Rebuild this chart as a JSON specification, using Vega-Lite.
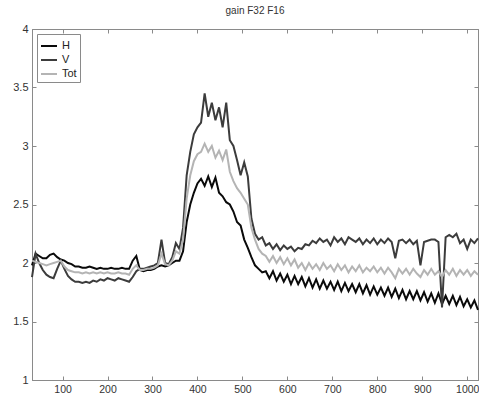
{
  "$schema": "https://vega.github.io/schema/vega-lite/v6.json",
  "width": 446,
  "height": 351,
  "autosize": {"type": "none"},
  "padding": {"left": 32, "top": 29, "right": 1, "bottom": 15},
  "background": "white",
  "title": {"text": "gain F32 F16", "fontSize": 10, "fontWeight": "normal", "font": "Liberation Sans", "color": "#333", "offset": 7},
  "config": {
    "view": {"stroke": "#8a8a8a", "strokeWidth": 1},
    "axis": {"grid": false, "domainColor": "#8a8a8a", "tickColor": "#8a8a8a", "labelFont": "Liberation Sans", "labelFontSize": 11, "labelColor": "#333", "title": null}
  },
  "data": {"values": [
{"x":32,"H":1.98,"V":1.88,"Tot":2.02},{"x":40,"H":2.08,"V":2.08,"Tot":2.01},{"x":48,"H":2.06,"V":2.0,"Tot":2.0},{"x":56,"H":2.04,"V":1.94,"Tot":1.99},{"x":64,"H":2.04,"V":1.9,"Tot":1.98},{"x":72,"H":2.07,"V":1.88,"Tot":1.99},{"x":80,"H":2.08,"V":1.87,"Tot":2.0},{"x":88,"H":2.05,"V":1.95,"Tot":2.01},{"x":96,"H":2.03,"V":2.02,"Tot":2.02},{"x":104,"H":2.02,"V":1.95,"Tot":1.97},
{"x":112,"H":2.0,"V":1.89,"Tot":1.94},{"x":120,"H":1.99,"V":1.86,"Tot":1.93},{"x":128,"H":1.97,"V":1.84,"Tot":1.92},{"x":136,"H":1.97,"V":1.84,"Tot":1.92},{"x":144,"H":1.96,"V":1.83,"Tot":1.91},{"x":152,"H":1.96,"V":1.84,"Tot":1.92},{"x":160,"H":1.97,"V":1.83,"Tot":1.91},{"x":168,"H":1.96,"V":1.85,"Tot":1.92},{"x":176,"H":1.95,"V":1.84,"Tot":1.91},{"x":184,"H":1.96,"V":1.86,"Tot":1.92},
{"x":192,"H":1.95,"V":1.85,"Tot":1.91},{"x":200,"H":1.95,"V":1.87,"Tot":1.92},{"x":208,"H":1.96,"V":1.86,"Tot":1.91},{"x":216,"H":1.95,"V":1.85,"Tot":1.91},{"x":224,"H":1.95,"V":1.87,"Tot":1.92},{"x":232,"H":1.96,"V":1.86,"Tot":1.91},{"x":240,"H":1.95,"V":1.85,"Tot":1.91},{"x":248,"H":1.95,"V":1.84,"Tot":1.9},{"x":256,"H":2.02,"V":1.88,"Tot":1.95},{"x":264,"H":2.06,"V":1.93,"Tot":1.98},
{"x":272,"H":1.94,"V":1.95,"Tot":1.94},{"x":280,"H":1.93,"V":1.95,"Tot":1.94},{"x":288,"H":1.94,"V":1.96,"Tot":1.95},{"x":296,"H":1.94,"V":1.97,"Tot":1.95},{"x":304,"H":1.95,"V":1.98,"Tot":1.96},{"x":312,"H":1.97,"V":2.0,"Tot":1.98},{"x":320,"H":1.98,"V":2.2,"Tot":2.08},{"x":328,"H":1.97,"V":2.0,"Tot":1.99},{"x":336,"H":1.98,"V":1.99,"Tot":1.98},{"x":344,"H":2.0,"V":2.05,"Tot":2.02},
{"x":352,"H":2.02,"V":2.17,"Tot":2.1},{"x":360,"H":2.02,"V":2.12,"Tot":2.08},{"x":368,"H":2.1,"V":2.3,"Tot":2.2},{"x":376,"H":2.35,"V":2.75,"Tot":2.55},{"x":384,"H":2.5,"V":2.95,"Tot":2.75},{"x":392,"H":2.6,"V":3.1,"Tot":2.87},{"x":400,"H":2.68,"V":3.16,"Tot":2.93},{"x":408,"H":2.72,"V":3.2,"Tot":2.95},{"x":416,"H":2.66,"V":3.45,"Tot":3.02},{"x":424,"H":2.74,"V":3.25,"Tot":2.95},
{"x":432,"H":2.65,"V":3.37,"Tot":3.0},{"x":440,"H":2.73,"V":3.22,"Tot":2.9},{"x":448,"H":2.6,"V":3.33,"Tot":2.96},{"x":456,"H":2.57,"V":3.16,"Tot":2.88},{"x":464,"H":2.52,"V":3.37,"Tot":2.97},{"x":472,"H":2.5,"V":3.05,"Tot":2.78},{"x":480,"H":2.44,"V":3.0,"Tot":2.7},{"x":488,"H":2.35,"V":2.88,"Tot":2.64},{"x":496,"H":2.32,"V":2.75,"Tot":2.6},{"x":504,"H":2.2,"V":2.86,"Tot":2.55},
{"x":512,"H":2.13,"V":2.74,"Tot":2.5},{"x":520,"H":2.05,"V":2.38,"Tot":2.3},{"x":528,"H":1.98,"V":2.25,"Tot":2.2},{"x":536,"H":1.95,"V":2.2,"Tot":2.12},{"x":544,"H":1.92,"V":2.22,"Tot":2.08},{"x":552,"H":1.93,"V":2.15,"Tot":2.06},{"x":560,"H":1.87,"V":2.17,"Tot":2.01},{"x":568,"H":1.93,"V":2.12,"Tot":2.06},{"x":576,"H":1.85,"V":2.16,"Tot":2.0},{"x":584,"H":1.91,"V":2.11,"Tot":2.05},
{"x":592,"H":1.84,"V":2.15,"Tot":1.99},{"x":600,"H":1.9,"V":2.12,"Tot":2.04},{"x":608,"H":1.82,"V":2.14,"Tot":1.98},{"x":616,"H":1.89,"V":2.1,"Tot":2.03},{"x":624,"H":1.82,"V":2.13,"Tot":1.96},{"x":632,"H":1.88,"V":2.12,"Tot":2.0},{"x":640,"H":1.8,"V":2.16,"Tot":1.94},{"x":648,"H":1.87,"V":2.15,"Tot":2.0},{"x":656,"H":1.79,"V":2.19,"Tot":1.95},{"x":664,"H":1.86,"V":2.17,"Tot":1.99},
{"x":672,"H":1.78,"V":2.21,"Tot":1.94},{"x":680,"H":1.85,"V":2.18,"Tot":2.0},{"x":688,"H":1.78,"V":2.2,"Tot":1.95},{"x":696,"H":1.84,"V":2.15,"Tot":1.98},{"x":704,"H":1.77,"V":2.22,"Tot":1.93},{"x":712,"H":1.84,"V":2.18,"Tot":1.99},{"x":720,"H":1.76,"V":2.21,"Tot":1.94},{"x":728,"H":1.83,"V":2.16,"Tot":1.98},{"x":736,"H":1.76,"V":2.22,"Tot":1.92},{"x":744,"H":1.82,"V":2.2,"Tot":1.97},
{"x":752,"H":1.75,"V":2.18,"Tot":1.93},{"x":760,"H":1.82,"V":2.21,"Tot":1.98},{"x":768,"H":1.74,"V":2.16,"Tot":1.92},{"x":776,"H":1.81,"V":2.2,"Tot":1.96},{"x":784,"H":1.73,"V":2.17,"Tot":1.93},{"x":792,"H":1.8,"V":2.21,"Tot":1.97},{"x":800,"H":1.73,"V":2.16,"Tot":1.92},{"x":808,"H":1.79,"V":2.2,"Tot":1.96},{"x":816,"H":1.72,"V":2.17,"Tot":1.91},{"x":824,"H":1.79,"V":2.21,"Tot":1.96},
{"x":832,"H":1.71,"V":2.18,"Tot":1.92},{"x":840,"H":1.78,"V":2.04,"Tot":1.87},{"x":848,"H":1.7,"V":2.19,"Tot":1.95},{"x":856,"H":1.77,"V":2.2,"Tot":1.91},{"x":864,"H":1.69,"V":2.17,"Tot":1.95},{"x":872,"H":1.76,"V":2.2,"Tot":1.9},{"x":880,"H":1.69,"V":2.16,"Tot":1.95},{"x":888,"H":1.76,"V":2.19,"Tot":1.91},{"x":896,"H":1.68,"V":1.98,"Tot":1.88},{"x":904,"H":1.75,"V":2.18,"Tot":1.94},
{"x":912,"H":1.67,"V":2.19,"Tot":1.9},{"x":920,"H":1.74,"V":2.2,"Tot":1.95},{"x":928,"H":1.66,"V":2.2,"Tot":1.9},{"x":936,"H":1.74,"V":2.18,"Tot":1.93},{"x":944,"H":1.65,"V":1.62,"Tot":1.88},{"x":952,"H":1.72,"V":2.22,"Tot":1.94},{"x":960,"H":1.65,"V":2.24,"Tot":1.9},{"x":968,"H":1.72,"V":2.22,"Tot":1.95},{"x":976,"H":1.64,"V":2.25,"Tot":1.89},{"x":984,"H":1.71,"V":2.17,"Tot":1.94},
{"x":992,"H":1.63,"V":2.2,"Tot":1.9},{"x":1000,"H":1.69,"V":2.12,"Tot":1.94},{"x":1008,"H":1.62,"V":2.2,"Tot":1.89},{"x":1016,"H":1.68,"V":2.17,"Tot":1.93},{"x":1024,"H":1.6,"V":2.21,"Tot":1.9}
  ]},
  "transform": [{"fold": ["H", "V", "Tot"], "as": ["series", "value"]}],
  "layer": [
    {
      "mark": {"type": "line", "strokeWidth": 2, "interpolate": "linear"},
      "encoding": {
        "x": {"field": "x", "type": "quantitative", "scale": {"domain": [32, 1024], "nice": false, "zero": false},
              "axis": {"orient": "bottom", "values": [100,200,300,400,500,600,700,800,900,1000], "tickSize": -4, "labelPadding": 8, "domain": true, "labelExpr": "datum.value", "labelFontSize": 10.5}},
        "y": {"field": "value", "type": "quantitative", "scale": {"domain": [1, 4], "nice": false, "zero": false},
              "axis": {"orient": "left", "values": [1,1.5,2,2.5,3,3.5,4], "tickSize": -4, "labelPadding": 8, "labelExpr": "datum.value"}},
        "color": {"field": "series", "type": "nominal", "sort": ["H", "V", "Tot"],
                  "scale": {"domain": ["H", "V", "Tot"], "range": ["#0a0a0a", "#3c3c3c", "#b4b4b4"]},
                  "legend": {"title": null, "orient": "top-left", "offset": 5, "padding": 3, "strokeColor": "#8a8a8a", "fillColor": "white",
                             "symbolType": "stroke", "symbolSize": 256, "symbolStrokeWidth": 2, "labelFont": "Liberation Sans", "labelFontSize": 11, "labelColor": "#222", "rowPadding": -4, "labelOffset": 4}},
        "detail": {"field": "series"}
      }
    },
    {
      "mark": {"type": "line", "strokeOpacity": 0},
      "encoding": {
        "x": {"field": "x", "type": "quantitative",
              "axis": {"orient": "top", "values": [100,200,300,400,500,600,700,800,900,1000], "tickSize": -4, "labels": false}},
        "y": {"field": "value", "type": "quantitative",
              "axis": {"orient": "right", "values": [1,1.5,2,2.5,3,3.5,4], "tickSize": -4, "labels": false}}
      }
    }
  ],
  "resolve": {"axis": {"x": "independent", "y": "independent"}}
}
